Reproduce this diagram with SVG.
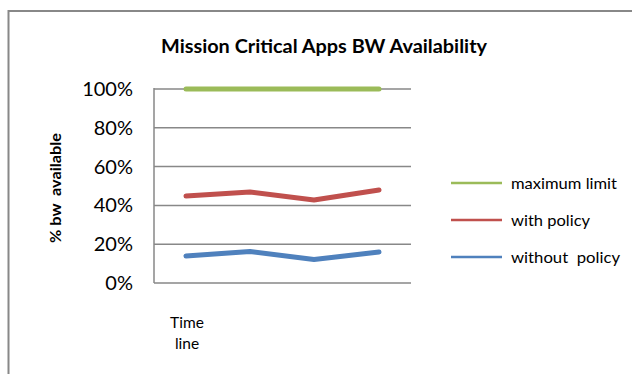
<svg xmlns="http://www.w3.org/2000/svg" width="632" height="374" viewBox="0 0 632 374">
<style>
text{font-family:Lato,"Open Sans","Liberation Sans",sans-serif;fill:#000;white-space:pre}
.title{font-size:19px;font-weight:bold}
.tick{font-size:20px;text-anchor:end}
.axt{font-size:14.5px;font-weight:bold;text-anchor:middle}
.cat{font-size:15.5px;text-anchor:middle}
.leg{font-size:16px}
.grid{stroke:#888;stroke-width:1.5;fill:none}
.s{fill:none;stroke-width:5;stroke-linecap:round;stroke-linejoin:round}
.ls{stroke-width:2.5}
</style>
<rect x="0" y="0" width="632" height="374" fill="#fff"/>
<rect id="frame" x="8.5" y="11" width="640" height="380" fill="none" stroke="#888" stroke-width="2"/>
<g id="title"><text class="title" x="324" y="53" text-anchor="middle" textLength="326" lengthAdjust="spacingAndGlyphs">Mission Critical Apps BW Availability</text></g>
<g id="axes">
<path class="grid" d="M154 89H411M154 127.8H411M154 166.6H411M154 205.4H411M154 244.2H411M154 283H411M154 88V283"/>
<text class="tick" x="133" y="96">100%</text>
<text class="tick" x="133" y="135">80%</text>
<text class="tick" x="133" y="174">60%</text>
<text class="tick" x="133" y="212">40%</text>
<text class="tick" x="133" y="251">20%</text>
<text class="tick" x="133" y="290">0%</text>
<text class="axt" transform="translate(61 188) rotate(-90)" textLength="110" lengthAdjust="spacingAndGlyphs">% bw  available</text>
<text class="cat" x="187" y="328">Time</text>
<text class="cat" x="187" y="349">line</text>
</g>
<g id="series">
<polyline id="maximum-limit" class="s" stroke="#9BBB59" points="186,89 250,89 314,89 379,89"/>
<polyline id="with-policy" class="s" stroke="#C0504D" points="186,196 250,192 314,200 379,190"/>
<polyline id="without-policy" class="s" stroke="#4F81BD" points="186,256 250,251.5 314,259.5 379,252"/>
</g>
<g id="legend">
<line class="ls" x1="451" y1="183" x2="502" y2="183" stroke="#9BBB59"/>
<line class="ls" x1="451" y1="220" x2="502" y2="220" stroke="#C0504D"/>
<line class="ls" x1="451" y1="257" x2="502" y2="257" stroke="#4F81BD"/>
<text class="leg" x="511" y="189" textLength="106" lengthAdjust="spacingAndGlyphs">maximum limit</text>
<text class="leg" x="511" y="226" textLength="79" lengthAdjust="spacingAndGlyphs">with policy</text>
<text class="leg" x="511" y="263" textLength="109" lengthAdjust="spacingAndGlyphs">without  policy</text>
</g>
</svg>
